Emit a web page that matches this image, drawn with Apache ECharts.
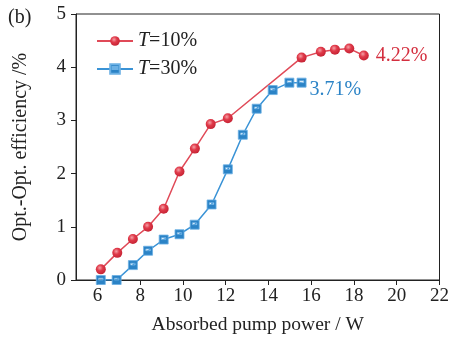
<!DOCTYPE html>
<html>
<head>
<meta charset="utf-8">
<script src="https://cdn.jsdelivr.net/npm/echarts@6/dist/echarts.min.js"></script>
<style>
  html, body { margin: 0; padding: 0; background: #fff; }
  #main { width: 452px; height: 340px; }
</style>
</head>
<body>
<div id="main"></div>
<script>
// absorbed pump power (W) and opt.-opt. efficiency (%)
var power10 = [6.16, 6.93, 7.66, 8.37, 9.1, 9.84, 10.56, 11.3, 12.1, 15.55, 16.45, 17.11, 17.78, 18.46];
var eff10 = [0.2, 0.51, 0.77, 1.0, 1.34, 2.04, 2.47, 2.93, 3.04, 4.18, 4.29, 4.33, 4.35, 4.22];
var power30 = [6.16, 6.9, 7.66, 8.37, 9.1, 9.84, 10.55, 11.34, 12.1, 12.8, 13.45, 14.2, 14.98, 15.55];
var eff30 = [0, 0, 0.28, 0.55, 0.76, 0.86, 1.04, 1.42, 2.08, 2.73, 3.22, 3.57, 3.71, 3.71];
var xTicks = [6, 8, 10, 12, 14, 16, 18, 20, 22];
var seriesNames = ["T=10%", "T=30%"];
var endLabels = ["4.22%", "3.71%"];

var font = "Liberation Serif";
var red = "#d42f3f";
var blue = "#2b83c6";

function pairs(xs, ys) {
  return xs.map(function (x, i) { return [x, ys[i]]; });
}

// square marker with a small white slot
var squareSym = "path://M0,0 H10 V10 H0 Z M2.5,3 V5 H7.5 V3 Z";

var myChart = echarts.init(document.getElementById("main"));

var option = {
  animation: false,
  textStyle: { fontFamily: font },
  grid: {
    left: 76,
    right: 9,
    top: 14,
    bottom: 56,
    show: true,
    borderColor: "#222",
    borderWidth: 1
  },
  graphic: [
    {
      type: "text",
      left: 8,
      top: 8,
      style: { text: "(b)", font: "20px " + font, fill: "#222" }
    }
  ],
  legend: {
    orient: "vertical",
    left: 91,
    top: 26,
    itemWidth: 36,
    itemHeight: 12,
    itemGap: 8,
    data: seriesNames,
    formatter: function (name) {
      return "{i|T}" + name.slice(1);
    },
    textStyle: {
      fontFamily: font,
      fontSize: 20,
      color: "#222",
      rich: {
        i: { fontStyle: "italic", fontFamily: font, fontSize: 20, color: "#222" }
      }
    }
  },
  xAxis: {
    type: "value",
    min: 5,
    max: 22,
    name: "Absorbed pump power / W",
    nameLocation: "middle",
    nameGap: 35,
    nameTextStyle: { fontFamily: font, fontSize: 19.5, color: "#222" },
    axisLine: { lineStyle: { color: "#222" } },
    axisTick: { length: 5, customValues: xTicks, lineStyle: { color: "#222" } },
    axisLabel: { customValues: xTicks, margin: 7, fontFamily: font, fontSize: 19, color: "#222" },
    splitLine: { show: false }
  },
  yAxis: {
    type: "value",
    min: 0,
    max: 5,
    interval: 1,
    name: "Opt.-Opt. efficiency /%",
    nameLocation: "middle",
    nameGap: 45,
    nameTextStyle: { fontFamily: font, fontSize: 20, color: "#222" },
    axisLine: { show: true, lineStyle: { color: "#222" } },
    axisTick: { show: true, length: 5, lineStyle: { color: "#222" } },
    axisLabel: { margin: 10, fontFamily: font, fontSize: 19, color: "#222" },
    splitLine: { show: false }
  },
  series: [
    {
      name: seriesNames[0],
      type: "line",
      data: pairs(power10, eff10),
      symbol: "circle",
      symbolSize: 10,
      lineStyle: { color: "#e04a58", width: 1.5 },
      itemStyle: {
        color: {
          type: "radial", x: 0.4, y: 0.35, r: 0.65,
          colorStops: [
            { offset: 0, color: "#f5a0a6" },
            { offset: 0.45, color: "#e03a4a" },
            { offset: 1, color: "#c62334" }
          ]
        }
      },
      endLabel: {
        show: true,
        formatter: endLabels[0],
        distance: 12,
        fontFamily: font,
        fontSize: 20,
        color: red
      }
    },
    {
      name: seriesNames[1],
      type: "line",
      data: pairs(power30, eff30),
      symbol: squareSym,
      symbolSize: 9,
      lineStyle: { color: "#3a93d6", width: 1.5 },
      itemStyle: { color: blue, borderColor: "#6bb0e4", borderWidth: 0.8 },
      endLabel: {
        show: true,
        formatter: endLabels[1],
        distance: 8,
        offset: [0, 7],
        fontFamily: font,
        fontSize: 20,
        color: blue
      }
    }
  ]
};

myChart.setOption(option);
</script>
</body>
</html>
